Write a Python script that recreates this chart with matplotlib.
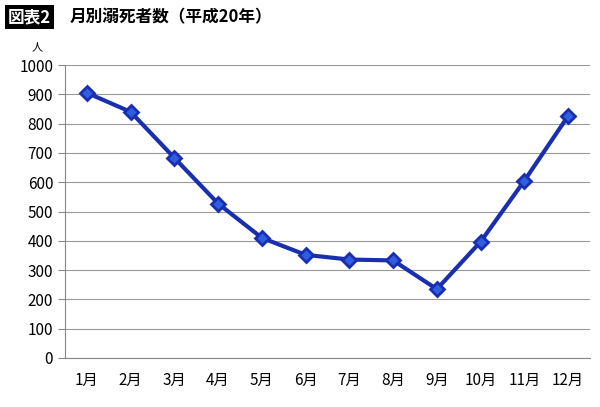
import matplotlib
matplotlib.use("Agg")
import matplotlib.pyplot as plt

plt.rcParams['font.family'] = ['Noto Sans CJK JP', 'DejaVu Sans']

months = ["1月","2月","3月","4月","5月","6月","7月","8月","9月","10月","11月","12月"]
deaths = [905, 840, 683, 527, 410, 352, 336, 333, 235, 397, 605, 826]
yticks = list(range(0, 1001, 100))

fig = plt.figure(figsize=(6.0, 4.07), dpi=100)
ax = fig.add_axes([65/600, 1-358/407, 525/600, 293/407])
x = list(range(len(months)))
ax.plot(x, deaths, color="#1a2fb0", lw=3, marker="D", ms=7,
        markerfacecolor="#2f5fe0", markeredgecolor="#1a2fb0", markeredgewidth=2, zorder=3)
ax.set_xlim(-0.5, 11.5)
ax.set_ylim(0, 1000)
ax.set_yticks(yticks)
ax.set_xticks(x)
ax.set_xticklabels(months, fontsize=11)
ax.tick_params(axis='y', labelsize=11, length=5, color="#888888")
ax.tick_params(axis='x', length=0, pad=10)
ax.grid(axis='y', color="#999999", lw=0.8)
for s in ["top", "right"]:
    ax.spines[s].set_visible(False)
ax.spines["left"].set_color("#888888")
ax.spines["bottom"].set_color("#888888")

fig.text(37/600, 1-47/407, "人", fontsize=8, ha="center", va="center")
fig.text(8/600, 1-17/407, "図表2", fontsize=12, color="white", fontweight="bold",
         va="center", ha="left", bbox=dict(facecolor="black", edgecolor="none", pad=2))
fig.text(70/600, 1-17/407, "月別溺死者数（平成20年）", fontsize=12, fontweight="bold",
         va="center", ha="left")
fig.savefig("out.png", dpi=100)
